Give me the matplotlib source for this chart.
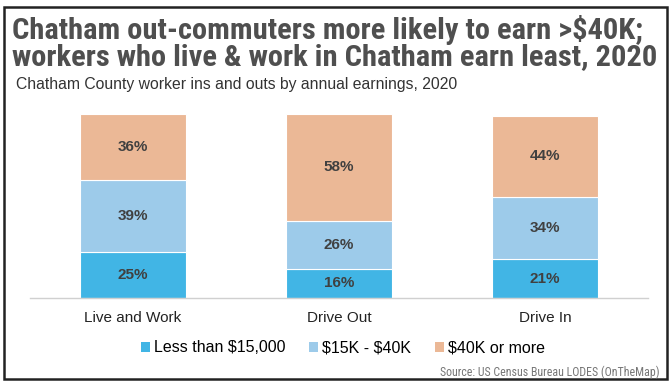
import matplotlib
matplotlib.use("Agg")
import matplotlib.pyplot as plt
from matplotlib.patches import Rectangle, Patch
from matplotlib import font_manager

plt.rcParams["text.parse_math"] = False

categories = ["Live and Work", "Drive Out", "Drive In"]
series_names = ["Less than $15,000", "$15K - $40K", "$40K or more"]
less_15k = [25, 16, 21]
mid_15_40k = [39, 26, 34]
over_40k = [36, 58, 44]
colors = ["#41B5E5", "#9DCBEA", "#EBB896"]

names = {f.name for f in font_manager.fontManager.ttflist}
narrow = None
for cand in ["Liberation Sans Narrow", "DejaVu Sans Condensed", "Roboto Condensed",
             "Open Sans Condensed", "Arial Narrow"]:
    if cand in names:
        narrow = cand
        break
title_font = narrow if narrow else "Liberation Sans"
src_font = narrow if narrow else "Liberation Sans"

fig = plt.figure(figsize=(6.7, 3.82), dpi=100)
ax = fig.add_axes([30/670, 1-298/382, 618/670, 184/382])

x = list(range(len(categories)))
bottom = [0]*len(categories)
for vals, col in zip([less_15k, mid_15_40k, over_40k], colors):
    ax.bar(x, vals, bottom=bottom, width=0.51, color=col, edgecolor="white", linewidth=0.8)
    for xi, v, b in zip(x, vals, bottom):
        ax.text(xi, b + v/2, f"{v}%", ha="center", va="center", fontsize=11,
                fontweight="bold", color="#404040", family="Liberation Sans")
    bottom = [b + v for b, v in zip(bottom, vals)]

ax.set_xlim(-0.5, 2.5)
ax.set_ylim(0, 100)
ax.set_yticks([])
ax.set_xticks(x)
ax.set_xticklabels(categories, fontsize=11, color="#222222", family="Liberation Sans")
ax.tick_params(axis="x", length=0, pad=9)
for s in ["top", "right", "left"]:
    ax.spines[s].set_visible(False)
ax.spines["bottom"].set_color("#D0D0D0")
ax.spines["bottom"].set_linewidth(1)

handles = [Patch(facecolor=c, edgecolor="none") for c in colors]
fig.legend(handles, series_names, loc="center", bbox_to_anchor=(343/670, 1-348/382), ncol=3,
           frameon=False, handlelength=0.55, handleheight=0.55,
           handletextpad=0.25, columnspacing=1.5, prop={"family": "Liberation Sans", "size": 11.5})

t1 = fig.text(12/670, 1-30/382, "Chatham out-commuters more likely to earn >$40K;",
              fontsize=17, fontweight="bold", color="#4F4F4F", va="center", ha="left",
              family=title_font)
t2 = fig.text(12/670, 1-57/382, "workers who live & work in Chatham earn least, 2020",
              fontsize=17, fontweight="bold", color="#4F4F4F", va="center", ha="left",
              family=title_font)
sub = fig.text(16/670, 1-85/382, "Chatham County worker ins and outs by annual earnings, 2020",
               fontsize=11, color="#333333", va="center", ha="left", family="Liberation Sans")
src = fig.text(660/670, 1-372/382, "Source: US Census Bureau LODES (OnTheMap)",
               fontsize=7, color="#777777", va="center", ha="right", family=src_font)

# fit texts to the reference widths
fig.canvas.draw()
r = fig.canvas.get_renderer()
w2 = t2.get_window_extent(r).width
scale = 645.0 / w2
for t in (t1, t2):
    t.set_fontsize(17 * scale)
ws = src.get_window_extent(r).width
src.set_fontsize(7 * 222.0 / ws)
wsub = sub.get_window_extent(r).width
sub.set_fontsize(11 * 440.0 / wsub)

fig.patches.append(Rectangle((4/670, 1-379/382), 663/670, 372/382, transform=fig.transFigure,
                             fill=False, edgecolor="#222222", linewidth=1.8))

fig.savefig("out.png", dpi=100)
